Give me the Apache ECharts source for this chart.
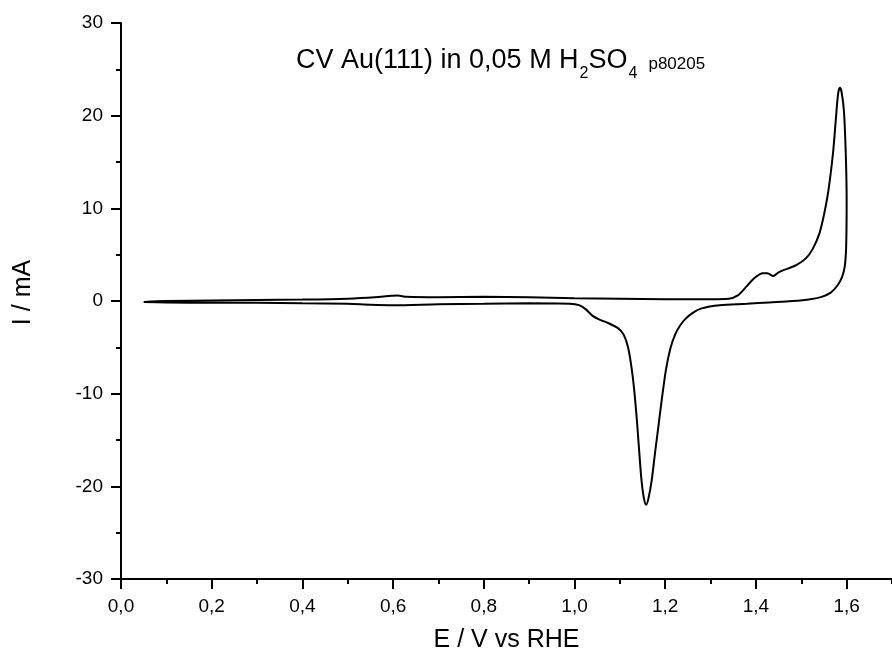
<!DOCTYPE html>
<html>
<head>
<meta charset="utf-8">
<script src="https://cdn.jsdelivr.net/npm/echarts@6/dist/echarts.min.js"></script>
<style>
html,body{margin:0;padding:0;background:#fff;}
#c{width:892px;height:660px;}
</style>
</head>
<body>
<div id="c"></div>
<script>
// Potential (V vs RHE) and current (mA) along the cyclic voltammogram, in scan order
const potential = [
  0.05, 0.10, 0.20, 0.30, 0.40, 0.50, 0.56, 0.61, 0.63, 0.70, 0.80, 0.90, 1.00, 1.10, 1.20, 1.30,
  1.34, 1.36, 1.38, 1.395, 1.415, 1.425, 1.438, 1.45, 1.47, 1.49, 1.51, 1.525, 1.54, 1.55, 1.56,
  1.57, 1.576, 1.581, 1.585, 1.589, 1.594, 1.598, 1.600, 1.599, 1.596, 1.59, 1.58, 1.565, 1.545,
  1.52, 1.48, 1.43, 1.38, 1.32, 1.28, 1.26, 1.245, 1.232, 1.222, 1.212, 1.202, 1.193, 1.185,
  1.178, 1.170, 1.163, 1.158, 1.153, 1.148, 1.143, 1.138, 1.132, 1.126, 1.118, 1.108, 1.095,
  1.075, 1.055, 1.04, 1.025, 1.01, 0.99, 0.90, 0.80, 0.70, 0.60, 0.55, 0.50, 0.40, 0.30, 0.20,
  0.10, 0.05
];
const current = [
  -0.1, 0.0, 0.05, 0.1, 0.15, 0.25, 0.4, 0.6, 0.45, 0.4, 0.45, 0.4, 0.3, 0.25, 0.2, 0.2,
  0.25, 0.6, 1.6, 2.4, 3.0, 3.0, 2.7, 3.1, 3.5, 3.9, 4.6, 5.6, 7.3, 9.3, 12.0,
  16.0, 19.5, 22.3, 23.0, 22.5, 20.5, 16.0, 11.0, 6.0, 3.8, 2.6, 1.7, 0.9, 0.45,
  0.2, 0.0, -0.15, -0.3, -0.45, -0.8, -1.3, -1.9, -2.7, -3.6, -5.0, -7.3, -10.4, -13.5,
  -16.2, -19.4, -21.3, -22.0, -21.3, -19.5, -16.5, -13.2, -9.8, -7.3, -5.0, -3.6, -2.9,
  -2.4, -2.0, -1.6, -0.9, -0.45, -0.3, -0.25, -0.3, -0.35, -0.45, -0.4, -0.3, -0.25, -0.2, -0.2,
  -0.15, -0.1
];
const xTicks = [0.0, 0.2, 0.4, 0.6, 0.8, 1.0, 1.2, 1.4, 1.6];
const yTicks = [-30, -20, -10, 0, 10, 20, 30];
const titleMain = 'CV Au(111) in 0,05 M H';
const titleSub1 = '2';
const titleMid = 'SO';
const titleSub2 = '4';
const titleTag = 'p80205';
const xName = 'E / V vs RHE';
const yName = 'I / mA';

const FONT = '"Liberation Sans", Arial, sans-serif';
const data = potential.map((p, i) => [p, current[i]]);

const chart = echarts.init(document.getElementById('c'), null, {renderer: 'canvas'});
chart.setOption({
  animation: false,
  backgroundColor: '#ffffff',
  textStyle: {fontFamily: FONT, color: '#000', fontWeight: 'normal'},
  title: {
    left: 296, top: 47, padding: 0,
    text: '{a|' + titleMain + '}{s|' + titleSub1 + '}{a|' + titleMid + '}{s|' + titleSub2 + '}{p|' + titleTag + '}',
    textStyle: {
      fontWeight: 'normal',
      rich: {
        a: {fontFamily: FONT, fontSize: 27, fontWeight: 'normal', lineHeight: 30, color: '#000', verticalAlign: 'top'},
        s: {fontFamily: FONT, fontSize: 16, fontWeight: 'normal', lineHeight: 20, color: '#000', verticalAlign: 'top', padding: [19, 0, 0, 1]},
        p: {fontFamily: FONT, fontSize: 17, fontWeight: 'normal', lineHeight: 20, color: '#000', verticalAlign: 'top', padding: [9, 0, 0, 11]}
      }
    }
  },
  grid: {left: 121, right: -7, top: 23, bottom: 81, containLabel: false},
  xAxis: [{
    type: 'value', position: 'bottom', min: xTicks[0], max: 1.7, interval: 0.2,
    name: xName, nameLocation: 'middle', nameGap: 49,
    nameTextStyle: {fontFamily: FONT, fontSize: 25, color: '#000'},
    axisLine: {show: true, onZero: false, lineStyle: {color: '#000', width: 2}},
    axisTick: {show: true, inside: false, length: 10, lineStyle: {color: '#000', width: 2}},
    axisLabel: {show: true, margin: 18, fontFamily: FONT, fontSize: 19, color: '#000', showMaxLabel: false,
      formatter: v => (xTicks.some(t => Math.abs(t - v) < 1e-6) ? v.toFixed(1).replace('.', ',') : '')},
    splitLine: {show: false}
  }, {
    type: 'value', position: 'bottom', min: xTicks[0], max: 1.7, interval: 0.1,
    axisLine: {show: false, onZero: false},
    axisTick: {show: true, inside: false, length: 5, lineStyle: {color: '#000', width: 2}},
    axisLabel: {show: false},
    splitLine: {show: false}
  }],
  yAxis: {
    type: 'value', min: yTicks[0], max: yTicks[yTicks.length - 1], interval: 10,
    name: yName, nameLocation: 'middle', nameGap: 85,
    nameTextStyle: {fontFamily: FONT, fontSize: 25, color: '#000', padding: [0, 0, 0, 17]},
    axisLine: {show: true, onZero: false, lineStyle: {color: '#000', width: 2}},
    axisTick: {show: true, inside: false, length: 10, lineStyle: {color: '#000', width: 2}},
    minorTick: {show: true, splitNumber: 2, length: 5, lineStyle: {color: '#000', width: 2}},
    axisLabel: {show: true, margin: 18, fontFamily: FONT, fontSize: 19, color: '#000'},
    splitLine: {show: false}, minorSplitLine: {show: false}
  },
  series: [{
    type: 'line', xAxisIndex: 0, data: data,
    showSymbol: false, smooth: 0.3,
    lineStyle: {color: '#000', width: 2}
  }]
});
</script>
</body>
</html>
